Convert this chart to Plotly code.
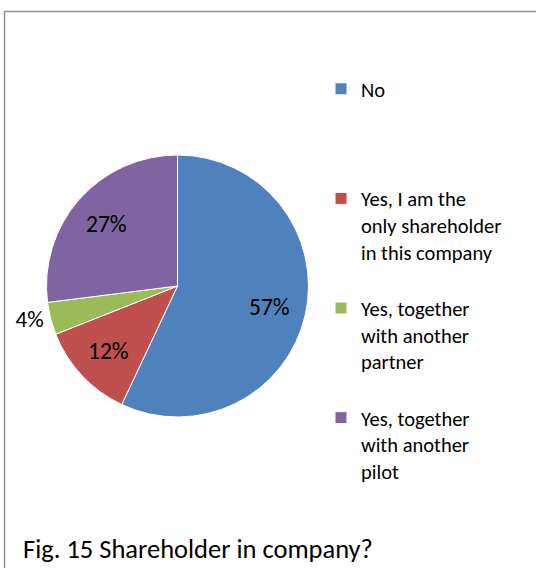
import math
import plotly.graph_objects as go

categories = [
    "No",
    "Yes, I am the<br>only shareholder<br>in this company",
    "Yes, together<br>with another<br>partner",
    "Yes, together<br>with another<br>pilot",
]
values = [57, 12, 4, 27]
colors = ["#4F81BD", "#C0504D", "#9BBB59", "#8064A2"]
label_inside = [True, True, False, True]
title_text = "Fig. 15 Shareholder in company?"

FONT = "Calibri, Carlito, Lato, sans-serif"
W, H = 536, 568
CX, CY, R = 177.5, 286, 131  # pie centre / radius in pixels

# pad legend labels so spacing resembles the original
legend_labels = [categories[0] + "<br> <br> <br> "] + [c + "<br> " for c in categories[1:]]

total = sum(values)
pct = [f"{round(100 * v / total)}%" for v in values]

fig = go.Figure(
    go.Pie(
        labels=legend_labels,
        values=values,
        sort=False,
        direction="clockwise",
        rotation=0,
        marker=dict(colors=colors, line=dict(color="white", width=1)),
        text=pct,
        texttemplate=["" if ins else "%{text}" for ins in label_inside],
        textposition=["inside" if ins else "outside" for ins in label_inside],
        textfont=dict(family=FONT, size=23, color="black"),
        domain=dict(x=[(CX - R) / W, (CX + R) / W],
                    y=[(H - CY - R) / H, (H - CY + R) / H]),
        hoverinfo="label+percent",
    )
)

# inside percentage labels, placed along each slice's mid-angle
annotations = []
cum = 0
for v, p, ins in zip(values, pct, label_inside):
    mid = (cum + v / 2) / total * 2 * math.pi
    cum += v
    if not ins:
        continue
    dx = math.sin(mid) * 0.72 * R
    dy = math.cos(mid) * 0.72 * R
    annotations.append(dict(
        x=(CX + dx) / W, y=(H - CY + dy) / H, xref="paper", yref="paper",
        text=p, showarrow=False, xanchor="center", yanchor="middle",
        font=dict(family=FONT, size=23.5, color="black"),
    ))

fig.update_layout(
    width=W,
    height=H,
    margin=dict(l=0, r=0, t=0, b=0),
    paper_bgcolor="white",
    plot_bgcolor="white",
    font=dict(family=FONT, size=20.5, color="black"),
    showlegend=True,
    legend=dict(
        x=321 / W,
        xanchor="left",
        y=1 - 69 / H,
        yanchor="top",
        valign="top",
        font=dict(family=FONT, size=20.5, color="black"),
        bgcolor="rgba(0,0,0,0)",
    ),
    title=dict(
        text=title_text,
        x=23 / W,
        xanchor="left",
        xref="paper",
        y=1 - 549 / H,
        yref="container",
        yanchor="middle",
        font=dict(family=FONT, size=26.5, color="black"),
    ),
    annotations=annotations,
    shapes=[
        dict(
            type="rect",
            xref="paper",
            yref="paper",
            x0=4.5 / W,
            x1=1.02,
            y0=-0.02,
            y1=1 - 11.5 / H,
            line=dict(color="#8E8E8E", width=1.5),
            fillcolor="rgba(0,0,0,0)",
            layer="below",
        )
    ],
)

fig.write_html(
    "out.html",
    config={"displayModeBar": False},
    post_script="document.body.style.margin='0';document.body.style.overflow='hidden';",
)
